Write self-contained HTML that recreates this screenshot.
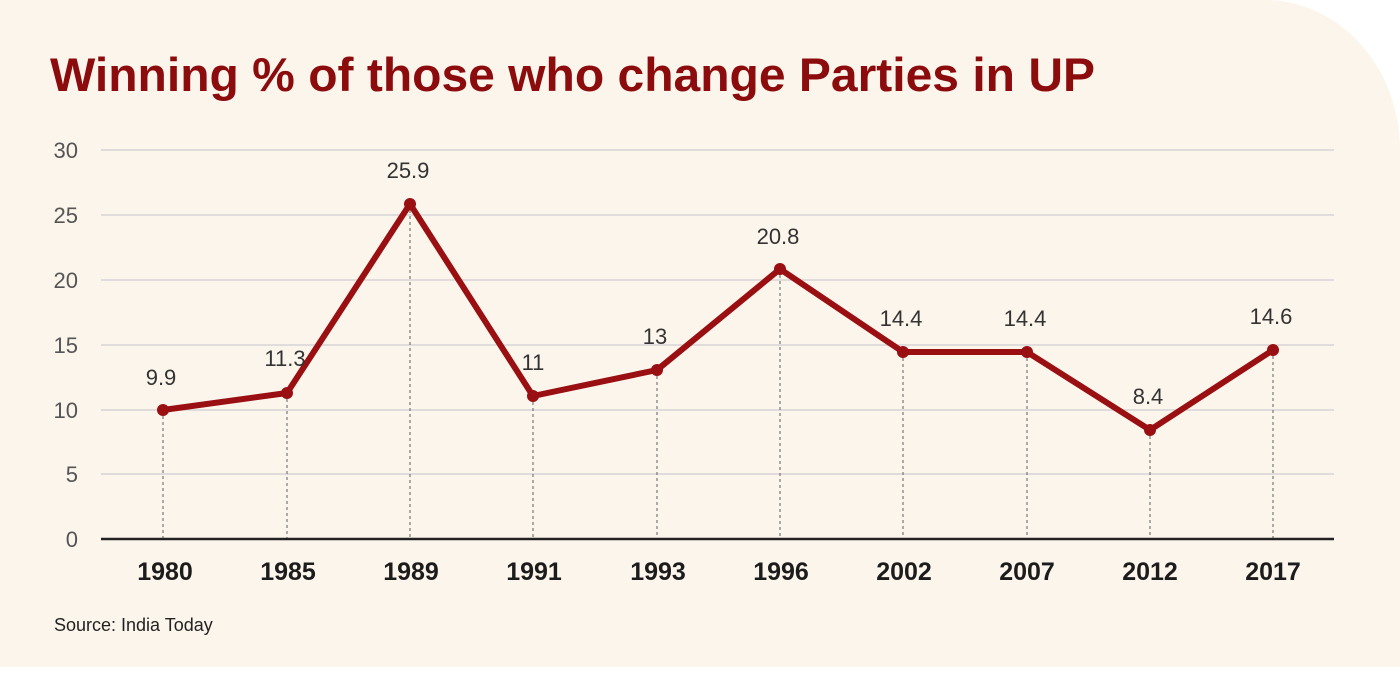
<!DOCTYPE html>
<html><head><style>
body{margin:0;width:1400px;height:674px;background:#fff;overflow:hidden}
.bg{position:absolute;left:0;top:0;width:1400px;height:667px;background:#fcf5eb;border-top-right-radius:135px 150px}
</style></head><body>
<div class="bg"></div>
<svg width="1400" height="674" style="position:absolute;left:0;top:0" font-family="Liberation Sans, sans-serif">
<text x="50" y="91" font-size="47" font-weight="bold" fill="#8c0c0e" textLength="1045" lengthAdjust="spacingAndGlyphs">Winning % of those who change Parties in UP</text>
<g stroke="#d6d3d6" stroke-width="1.5">
<line x1="101" x2="1334" y1="150" y2="150"/><line x1="101" x2="1334" y1="215" y2="215"/>
<line x1="101" x2="1334" y1="280" y2="280"/><line x1="101" x2="1334" y1="345" y2="345"/>
<line x1="101" x2="1334" y1="410" y2="410"/><line x1="101" x2="1334" y1="474" y2="474"/>
</g>
<g font-size="22" fill="#555" text-anchor="end">
<text x="78" y="158">30</text><text x="78" y="223">25</text><text x="78" y="288">20</text>
<text x="78" y="353">15</text><text x="78" y="418">10</text><text x="78" y="482">5</text><text x="78" y="547">0</text>
</g>
<g stroke="#777" stroke-width="1.2" stroke-dasharray="3,3">
<line x1="163" x2="163" y1="410" y2="539"/><line x1="287" x2="287" y1="393" y2="539"/>
<line x1="410" x2="410" y1="204" y2="539"/><line x1="533" x2="533" y1="396" y2="539"/>
<line x1="657" x2="657" y1="370" y2="539"/><line x1="780" x2="780" y1="269" y2="539"/>
<line x1="903" x2="903" y1="352" y2="539"/><line x1="1027" x2="1027" y1="352" y2="539"/>
<line x1="1150" x2="1150" y1="430" y2="539"/><line x1="1273" x2="1273" y1="350" y2="539"/>
</g>
<line x1="101" x2="1334" y1="539" y2="539" stroke="#222" stroke-width="2.5"/>
<polyline fill="none" stroke="#990f12" stroke-width="6" stroke-linejoin="round" points="163,410 287,393 410,204 533,396 657,370 780,269 903,352 1027,352 1150,430 1273,350"/>
<g fill="#990f12">
<circle cx="163" cy="410" r="6"/><circle cx="287" cy="393" r="6"/><circle cx="410" cy="204" r="6"/>
<circle cx="533" cy="396" r="6"/><circle cx="657" cy="370" r="6"/><circle cx="780" cy="269" r="6"/>
<circle cx="903" cy="352" r="6"/><circle cx="1027" cy="352" r="6"/><circle cx="1150" cy="430" r="6"/>
<circle cx="1273" cy="350" r="6"/>
</g>
<g font-size="22" fill="#333" text-anchor="middle">
<text x="161" y="385">9.9</text><text x="285" y="366">11.3</text><text x="408" y="178">25.9</text>
<text x="533" y="370">11</text><text x="655" y="344">13</text><text x="778" y="244">20.8</text>
<text x="901" y="326">14.4</text><text x="1025" y="326">14.4</text><text x="1148" y="404">8.4</text>
<text x="1271" y="324">14.6</text>
</g>
<g font-size="25" font-weight="bold" fill="#1c1c1c" text-anchor="middle">
<text x="165" y="580">1980</text><text x="288" y="580">1985</text><text x="411" y="580">1989</text>
<text x="534" y="580">1991</text><text x="658" y="580">1993</text><text x="781" y="580">1996</text>
<text x="904" y="580">2002</text><text x="1027" y="580">2007</text><text x="1150" y="580">2012</text>
<text x="1273" y="580">2017</text>
</g>
<text x="54" y="631" font-size="18" fill="#222">Source: India Today</text>
</svg>
</body></html>
